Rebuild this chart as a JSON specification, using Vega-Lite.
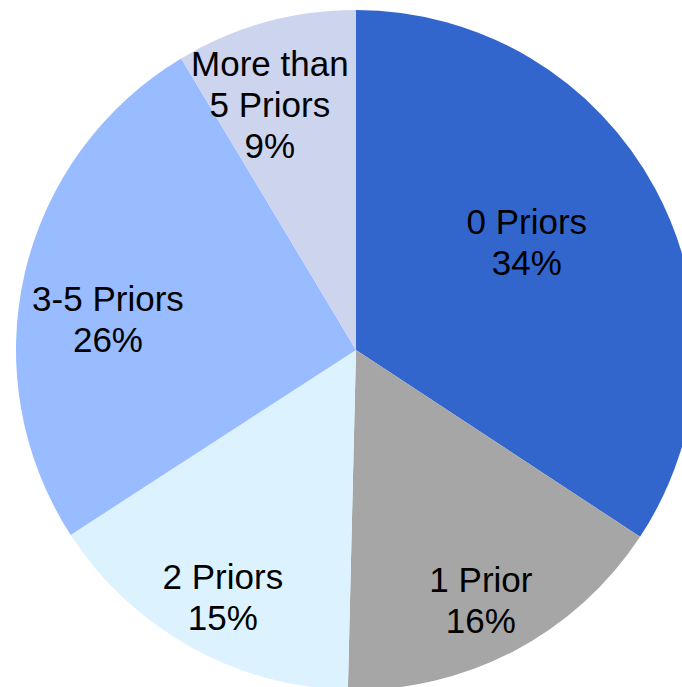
{
  "$schema": "https://vega.github.io/schema/vega-lite/v6.json",
  "autosize": {"type": "none"},
  "width": 652,
  "height": 674,
  "padding": {"left": 30, "top": 13, "right": 0, "bottom": 0},
  "background": "white",
  "view": {"stroke": null},
  "data": {
    "values": [
      {"idx": 1, "cat": "0 Priors", "value": 34.26, "label": "0 Priors\n34%"},
      {"idx": 2, "cat": "1 Prior", "value": 16.12, "label": "1 Prior\n16%"},
      {"idx": 3, "cat": "2 Priors", "value": 15.47, "label": "2 Priors\n15%"},
      {"idx": 4, "cat": "3-5 Priors", "value": 25.55, "label": "3-5 Priors\n26%"},
      {"idx": 5, "cat": "More than 5 Priors", "value": 8.6, "label": "More than\n5 Priors\n9%"}
    ]
  },
  "encoding": {
    "theta": {"field": "value", "type": "quantitative", "stack": true},
    "order": {"field": "idx", "type": "quantitative"}
  },
  "layer": [
    {
      "mark": {"type": "arc", "outerRadius": 340, "stroke": null},
      "encoding": {
        "color": {
          "field": "cat",
          "type": "nominal",
          "scale": {
            "domain": ["0 Priors", "1 Prior", "2 Priors", "3-5 Priors", "More than 5 Priors"],
            "range": ["#3366CC", "#A6A6A6", "#DDF2FF", "#99BBFF", "#CCD4EE"]
          },
          "legend": null
        }
      }
    },
    {
      "mark": {
        "type": "text",
        "font": "Liberation Sans",
        "fontSize": 35,
        "lineHeight": 41,
        "lineBreak": "\n",
        "align": "center",
        "baseline": "middle",
        "color": "black",
        "radius": {"expr": "datum.cat === '0 Priors' ? 202 : datum.cat === '3-5 Priors' ? 250 : datum.cat === 'More than 5 Priors' ? 259 : 281"},
        "dx": {"expr": "datum.cat === '0 Priors' ? -7 : datum.cat === '1 Prior' ? -5.5 : datum.cat === '2 Priors' ? 4 : datum.cat === '3-5 Priors' ? -4.5 : -17"},
        "dy": {"expr": "datum.cat === '0 Priors' ? -31.5 : datum.cat === '1 Prior' ? -17.5 : datum.cat === '2 Priors' ? -17.5 : datum.cat === '3-5 Priors' ? 6.5 : -35"}
      },
      "encoding": {
        "text": {"field": "label", "type": "nominal"}
      }
    }
  ]
}
